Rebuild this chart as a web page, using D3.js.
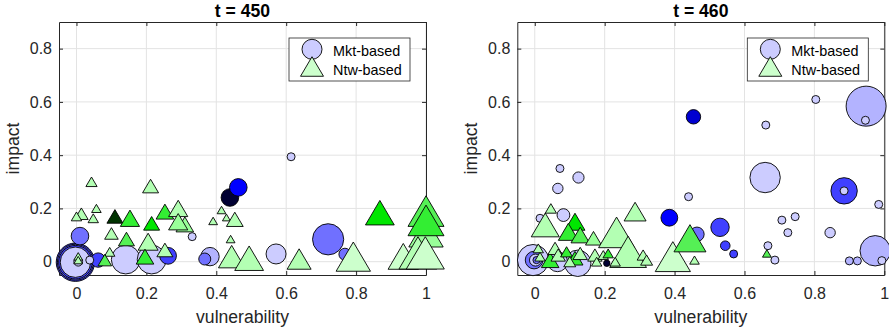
<!DOCTYPE html>
<html>
<head>
<meta charset="utf-8">
<script src="https://cdn.jsdelivr.net/npm/d3@7"></script>
<style>
  body { margin: 0; background: #fff; }
  text { font-family: "Liberation Sans", Arial, Helvetica, sans-serif; }
</style>
</head>
<body>
<svg id="chart" width="889" height="331"></svg>
<script>
// rows: [vulnerability, impact, weight, shade]
const mkt450 = [
  [-0.003, -0.002, 0.96, 3], [-0.003, -0.002, 0.90, 2], [-0.003, -0.002, 0.84, 3], [-0.003, -0.002, 0.76, 0],
  [0.720, 0.084, 0.78, 2], [0.141, 0.008, 0.72, 0], [0.215, 0.008, 0.72, 0], [0.010, 0.096, 0.44, 2],
  [0.571, 0.029, 0.50, 0], [0.382, 0.019, 0.46, 1], [0.439, 0.241, 0.44, 6], [0.463, 0.279, 0.44, 4],
  [0.262, 0.022, 0.42, 3], [0.062, 0.006, 0.36, 3], [0.367, 0.010, 0.30, 2], [0.768, 0.028, 0.30, 2],
  [0.005, 0.000, 0.22, 0], [0.038, 0.006, 0.20, 0], [0.331, 0.094, 0.20, 0], [0.614, 0.394, 0.20, 0]
];
const ntw450 = [
  [0.043, 0.300, 0.28, 1], [0.212, 0.284, 0.40, 1], [0.014, 0.180, 0.34, 1], [0.000, 0.170, 0.26, 1],
  [0.057, 0.200, 0.24, 1], [0.048, 0.163, 0.26, 1], [0.110, 0.170, 0.40, 6], [0.153, 0.163, 0.48, 4],
  [0.100, 0.106, 0.34, 1], [0.143, 0.085, 0.40, 3], [0.215, 0.144, 0.40, 5], [0.253, 0.188, 0.44, 4],
  [0.310, 0.140, 0.44, 2], [0.291, 0.200, 0.48, 1], [0.291, 0.150, 0.48, 2], [0.205, 0.075, 0.50, 1],
  [0.253, 0.044, 0.40, 1], [0.196, 0.019, 0.44, 4], [0.095, 0.037, 0.26, 1], [0.081, 0.006, 0.34, 3],
  [0.005, 0.020, 0.22, 1], [0.005, 0.006, 0.22, 1], [0.415, 0.194, 0.22, 1], [0.391, 0.153, 0.22, 1],
  [0.429, 0.166, 0.20, 1], [0.453, 0.159, 0.42, 1], [0.441, 0.085, 0.22, 1], [0.444, 0.019, 0.66, 1],
  [0.494, 0.013, 0.72, 1], [0.637, 0.010, 0.60, 1], [0.792, 0.019, 0.86, 0], [0.868, 0.184, 0.72, 5],
  [1.000, 0.190, 0.90, 3], [1.000, 0.110, 0.86, 2], [1.000, 0.155, 0.90, 4], [0.935, 0.020, 0.76, 0],
  [0.977, 0.033, 0.95, 1], [0.998, 0.033, 0.95, 0]
];
const mkt460 = [
  [0.948, 0.584, 1.00, 1], [0.974, 0.041, 0.76, 1], [-0.005, 0.006, 0.78, 0], [0.659, 0.316, 0.76, 0],
  [0.123, -0.006, 0.66, 0], [0.885, 0.266, 0.66, 3], [0.065, 0.000, 0.50, 0], [0.530, 0.129, 0.46, 3],
  [-0.002, 0.006, 0.44, 2], [0.385, 0.165, 0.42, 4], [0.454, 0.544, 0.36, 5], [0.082, 0.175, 0.32, 0],
  [0.464, 0.103, 0.36, 2], [0.002, 0.006, 0.30, 0], [0.125, 0.316, 0.28, 0], [0.066, 0.275, 0.26, 0],
  [0.845, 0.109, 0.26, 0], [0.545, 0.060, 0.24, 3], [0.569, 0.029, 0.20, 3], [0.005, 0.006, 0.18, 2],
  [0.072, 0.350, 0.20, 0], [0.440, 0.244, 0.20, 0], [0.661, 0.513, 0.20, 0], [0.804, 0.609, 0.20, 0],
  [0.946, 0.531, 0.20, 0], [0.885, 0.266, 0.20, 0], [0.984, 0.215, 0.20, 0], [0.707, 0.156, 0.20, 0],
  [0.745, 0.169, 0.20, 0], [0.724, 0.109, 0.20, 0], [0.667, 0.060, 0.20, 0], [0.687, 0.006, 0.20, 0],
  [0.900, 0.003, 0.20, 1], [0.923, 0.003, 0.20, 1], [0.993, 0.004, 0.20, 0], [0.015, 0.163, 0.20, 0],
  [0.206, -0.006, 0.16, 6]
];
const ntw460 = [
  [0.046, 0.200, 0.28, 1], [0.030, 0.138, 0.70, 1], [0.287, 0.188, 0.55, 1], [0.115, 0.150, 0.50, 5],
  [0.096, 0.112, 0.50, 4], [0.130, 0.100, 0.46, 3], [0.168, 0.088, 0.40, 2], [0.234, 0.110, 0.90, 1],
  [0.267, 0.037, 0.92, 1], [0.395, 0.019, 0.88, 0], [0.444, 0.088, 0.80, 3], [0.457, 0.006, 0.24, 1],
  [0.664, 0.031, 0.22, 3], [0.010, 0.050, 0.26, 1], [0.015, 0.019, 0.26, 1], [0.044, 0.006, 0.44, 4],
  [0.058, 0.050, 0.36, 1], [0.067, 0.025, 0.36, 1], [0.091, 0.037, 0.30, 4], [0.115, 0.013, 0.40, 4],
  [0.130, 0.031, 0.36, 1], [0.100, 0.000, 0.30, 1], [0.172, 0.025, 0.36, 1], [0.196, 0.025, 0.26, 1],
  [0.210, 0.031, 0.26, 4], [0.230, 0.000, 0.26, 1], [0.177, 0.000, 0.26, 1], [0.310, 0.025, 0.30, 1],
  [0.320, 0.006, 0.30, 1]
];

const xTicks = [0, 0.2, 0.4, 0.6, 0.8, 1];
const yTicks = [0, 0.2, 0.4, 0.6, 0.8];
const panelTitles = ['t = 450', 't = 460'];
const legendLabels = ['Mkt-based', 'Ntw-based'];

const mktColors = ['#ccccff', '#b3b3ff', '#7070ff', '#4040ff', '#0000ff', '#0000d0', '#000033'];
const ntwColors = ['#ccffcc', '#b3ffb3', '#99ff99', '#55f055', '#33ee33', '#00e600', '#003300'];

const svg = d3.select('#chart');
const axisColor = '#262626';
const width = 367, height = 253;
const panels = [
  { left: 59, top: 22, title: panelTitles[0], mkt: mkt450, ntw: ntw450 },
  { left: 517.3, top: 22, title: panelTitles[1], mkt: mkt460, ntw: ntw460 }
];

const x = d3.scaleLinear().domain([-0.05, 1]).range([0, width]);
const y = d3.scaleLinear().domain([-0.05, 0.9]).range([height, 0]);
const size = d3.scaleLinear().domain([0, 1]).range([0, 40]);
const mktColor = d3.scaleOrdinal().domain(d3.range(mktColors.length)).range(mktColors);
const ntwColor = d3.scaleOrdinal().domain(d3.range(ntwColors.length)).range(ntwColors);

function triangle(w) {
  const h = w * 0.85;
  return `M0,${-h / 2}L${w / 2},${h / 2}L${-w / 2},${h / 2}Z`;
}

panels.forEach(p => {
  const g = svg.append('g').attr('transform', `translate(${p.left},${p.top})`);

  // grid
  g.append('g').selectAll('line').data(xTicks).join('line')
    .attr('x1', d => x(d)).attr('x2', d => x(d)).attr('y1', 0).attr('y2', height)
    .attr('stroke', '#e3e3e3').attr('stroke-width', 1);
  g.append('g').selectAll('line').data(yTicks).join('line')
    .attr('y1', d => y(d)).attr('y2', d => y(d)).attr('x1', 0).attr('x2', width)
    .attr('stroke', '#e3e3e3').attr('stroke-width', 1);

  // axes with inward ticks
  const xAxis = g.append('g').attr('transform', `translate(0,${height})`)
    .call(d3.axisBottom(x).tickValues(xTicks).tickFormat(d3.format('~g')).tickSizeInner(-4).tickSizeOuter(0).tickPadding(13));
  const xTop = g.append('g')
    .call(d3.axisTop(x).tickValues(xTicks).tickFormat('').tickSizeInner(-4).tickSizeOuter(0));
  const yAxis = g.append('g')
    .call(d3.axisLeft(y).tickValues(yTicks).tickFormat(d3.format('~g')).tickSizeInner(-4).tickSizeOuter(0).tickPadding(7));
  const yRight = g.append('g').attr('transform', `translate(${width},0)`)
    .call(d3.axisRight(y).tickValues(yTicks).tickFormat('').tickSizeInner(-4).tickSizeOuter(0));
  [xAxis, xTop, yAxis, yRight].forEach(a => {
    a.select('.domain').attr('stroke', axisColor);
    a.selectAll('line').attr('stroke', axisColor);
    a.selectAll('text').attr('fill', axisColor).style('font-size', '16px')
      .style('font-family', '"Liberation Sans", Arial, sans-serif');
  });

  // markers
  g.append('g').selectAll('circle').data(p.mkt).join('circle')
    .attr('cx', d => x(d[0])).attr('cy', d => y(d[1])).attr('r', d => size(d[2]) / 2)
    .attr('fill', d => mktColor(d[3])).attr('stroke', '#000').attr('stroke-width', 0.9);
  g.append('g').selectAll('path').data(p.ntw).join('path')
    .attr('transform', d => `translate(${x(d[0])},${y(d[1])})`)
    .attr('d', d => triangle(size(d[2])))
    .attr('fill', d => ntwColor(d[3])).attr('stroke', '#000').attr('stroke-width', 0.9)
    .attr('stroke-linejoin', 'miter');

  // title and labels
  g.append('text').attr('x', width / 2).attr('y', -5).attr('text-anchor', 'middle')
    .style('font-size', '17.6px').style('font-weight', 'bold').attr('fill', '#000').text(p.title);
  g.append('text').attr('x', width / 2).attr('y', 301).attr('text-anchor', 'middle')
    .style('font-size', '17.6px').attr('fill', axisColor).text('vulnerability');
  g.append('text').attr('transform', `translate(-40,${height / 2}) rotate(-90)`).attr('text-anchor', 'middle')
    .style('font-size', '17.6px').attr('fill', axisColor).text('impact');

  // legend
  const lg = g.append('g').attr('transform', `translate(${width - 137},16)`);
  lg.append('rect').attr('width', 121).attr('height', 43).attr('fill', '#fff')
    .attr('stroke', axisColor).attr('stroke-width', 0.8);
  lg.append('circle').attr('cx', 23).attr('cy', 11.3).attr('r', 10)
    .attr('fill', mktColors[0]).attr('stroke', '#000').attr('stroke-width', 0.9);
  lg.append('path').attr('transform', 'translate(23,28.5)').attr('d', triangle(23))
    .attr('fill', ntwColors[0]).attr('stroke', '#000').attr('stroke-width', 0.9);
  lg.selectAll('text').data(legendLabels).join('text')
    .attr('x', 44).attr('y', (d, i) => 13 + i * 19).attr('dy', '0.35em')
    .style('font-size', '14.4px').attr('fill', '#000').text(d => d);
});
</script>
</body>
</html>
